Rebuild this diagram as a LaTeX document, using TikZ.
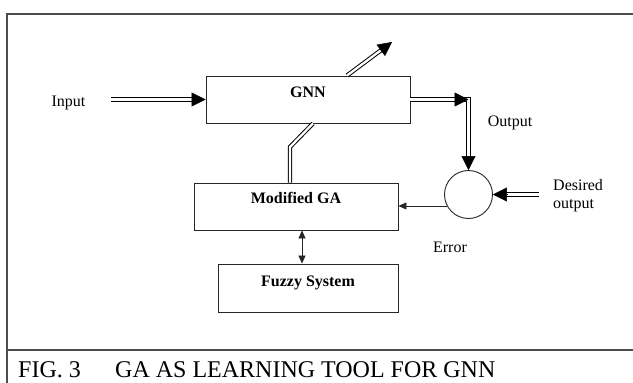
\documentclass[tikz,border=0pt]{standalone}
\usepackage{fontspec}
\setmainfont{Liberation Serif}
\usetikzlibrary{arrows.meta,calc}

\tikzset{
  frameline/.style={draw=black!70, line width=1.4pt},
  boxnode/.style={draw=black!85, line width=0.9pt, minimum width=#1,
                  minimum height=47pt, inner sep=0pt},
  sumnode/.style={draw=black!85, line width=0.9pt, circle,
                  minimum size=48pt, inner sep=0pt},
  boxtext/.style={font=\fontsize{16}{18}\selectfont\bfseries, anchor=base, inner sep=0pt},
  labeltext/.style={font=\fontsize{16}{18}\selectfont, inner sep=0pt},
  captiontext/.style={font=\fontsize{24}{28}\selectfont, anchor=base west, inner sep=0pt},
  dbl/.style={draw=black, line width=1pt, double=white, double distance=2.3pt},
  bigtip/.style={draw=black, fill=black, line width=0.5pt,
                 -{Triangle[length=14pt,width=14pt]}},
  thinarrow/.style={draw=black!85, line width=0.8pt,
                    -{Triangle[length=8pt,width=7pt]}},
  botharrow/.style={draw=black!85, line width=0.8pt,
                    {Triangle[length=8pt,width=7pt]}-{Triangle[length=8pt,width=7pt]}},
}

\begin{document}
\begin{tikzpicture}[x=1pt,y=-1pt]
  \useasboundingbox (0,0) rectangle (633,383);

  % outer frame and caption rule
  \draw[frameline] (7,383) -- (7,14) -- (633,14);
  \draw[frameline] (7,350) -- (633,350);

  % caption
  \node[captiontext] (figno) at (18,377) {FIG. 3};
  \node[captiontext] (figtitle) at (115,377) {GA AS LEARNING TOOL FOR GNN};

  % blocks
  \node[boxnode=204pt] (gnn) at (308,99.5) {};
  \node[boxtext] (gnnT) at ([yshift=-22pt]gnn.north) {GNN};

  \node[boxnode=204pt] (modga) at (296,206.5) {};
  \node[boxtext] (modgaT) at ([yshift=-21pt]modga.north) {Modified GA};

  \node[boxnode=180pt, minimum height=48pt] (fuzzy) at (308,288) {};
  \node[boxtext] (fuzzyT) at ([yshift=-22.5pt]fuzzy.north) {Fuzzy System};

  \node[sumnode] (sum) at (468.5,194.5) {};

  % labels
  \node[labeltext, anchor=base] (inL) at (68.5,106.5) {Input};
  \node[labeltext, anchor=base] (outL) at (510,126) {Output};
  \node[labeltext, anchor=base] (errL) at (450,252) {Error};
  \node[labeltext, anchor=base west] (desL1) at (553,190) {Desired};
  \node[labeltext, anchor=base west] (desL2) at (553,208) {output};

  % free ends and bends of the connectors
  \coordinate (inS) at (111,99.5);
  \coordinate (outC) at (sum.north |- gnn.east);
  \coordinate (desS) at (539,194.5);
  \coordinate (topA) at ([xshift=39pt]gnn.north);
  \coordinate (topB) at (392,42);
  \coordinate (gaUp) at ([xshift=-6pt]modga.north);
  \coordinate (gaBend) at (gaUp |- 0,147);
  \coordinate (gnnIn) at ([xshift=5pt]gnn.south);

  % input to GNN
  \draw[dbl, shorten >=12pt] (inS) -- (gnn.west);
  \draw[bigtip] ($(gnn.west)!14pt!(inS)$) -- (gnn.west);

  % GNN output to the comparator
  \draw[dbl, shorten >=12pt] (gnn.east) -- (outC) -- (sum.north);
  \draw[bigtip] ($(outC)!14pt!(gnn.east)$) -- (outC);
  \draw[bigtip] ($(sum.north)!14pt!(outC)$) -- (sum.north);

  % desired output
  \draw[dbl, shorten >=12pt] (desS) -- (sum.east);
  \draw[bigtip] ($(sum.east)!14pt!(desS)$) -- (sum.east);

  % output leaving the GNN
  \draw[dbl, shorten >=12pt] (topA) -- (topB);
  \draw[bigtip] ($(topB)!14pt!(topA)$) -- (topB);

  % GA adjusting the GNN
  \draw[dbl] (gaUp) -- (gaBend) -- (gnnIn);

  % error signal
  \draw[thinarrow] (sum.208) -- (sum.208 -| modga.east);

  % GA <-> fuzzy system
  \draw[botharrow] ([xshift=6pt]modga.south) -- ([xshift=6pt]modga.south |- fuzzy.north);
\end{tikzpicture}
\end{document}
